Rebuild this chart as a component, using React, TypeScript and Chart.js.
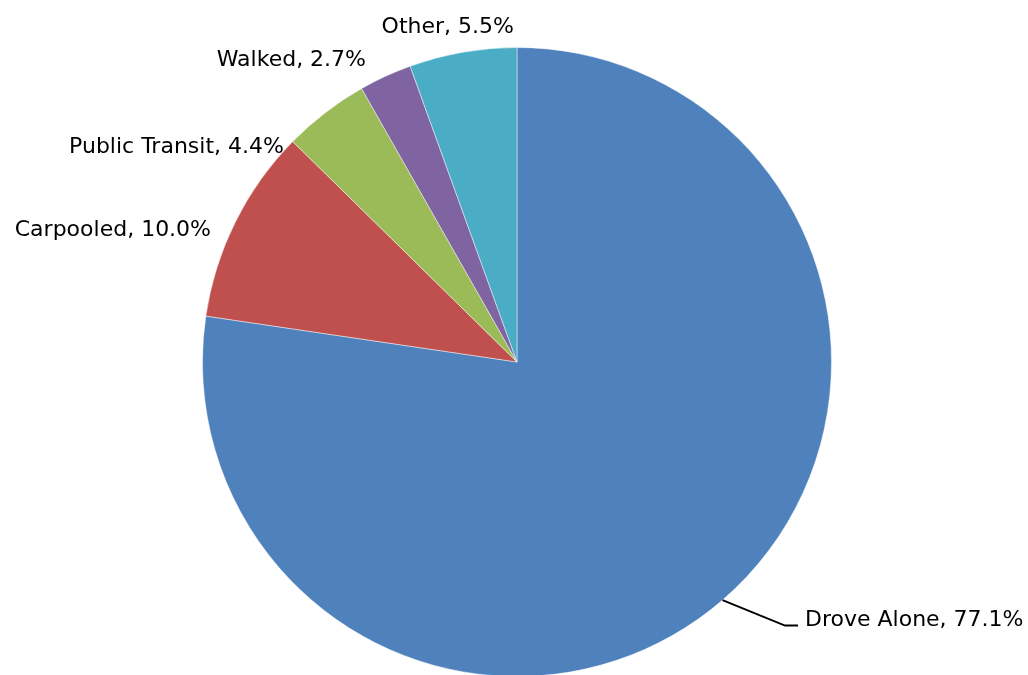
import React, { useEffect, useRef } from "react";
import { Chart, registerables } from "chart.js";

Chart.register(...registerables);

const categories: string[] = ["Drove Alone", "Carpooled", "Public Transit", "Walked", "Other"];
const shares: number[] = [77.1, 10.0, 4.4, 2.7, 5.5];
const sliceColors: string[] = ["#4F81BD", "#C0504D", "#9BBB59", "#8064A2", "#4BACC6"];

// label placement relative to the slice's outer mid-point (text edge x, baseline y)
const labelOffsets: { dx: number; dy: number; align: CanvasTextAlign; leader?: number[][] }[] = [
  { dx: 82.5, dy: 25.5, align: "left", leader: [[62.5, 25.5], [75.5, 25.5]] },
  { dx: -24.4, dy: 14, align: "right" },
  { dx: -41.4, dy: 40, align: "right" },
  { dx: -19.4, dy: -10.4, align: "right" },
  { dx: 51.2, dy: -19.2, align: "right" },
];

const labelPlugin = {
  id: "sliceLabels",
  afterDatasetsDraw(chart: any) {
    const ctx: CanvasRenderingContext2D = chart.ctx;
    const meta = chart.getDatasetMeta(0);
    const data = chart.data.datasets[0].data as number[];
    const labels = chart.data.labels as string[];
    ctx.save();
    ctx.font = "22px 'DejaVu Sans'";
    ctx.fillStyle = "#000000";
    ctx.textBaseline = "alphabetic";
    meta.data.forEach((arc: any, i: number) => {
      const p = arc.getProps(["x", "y", "startAngle", "endAngle", "outerRadius"], true);
      const mid = (p.startAngle + p.endAngle) / 2;
      const ex = p.x + Math.cos(mid) * p.outerRadius;
      const ey = p.y + Math.sin(mid) * p.outerRadius;
      const o = labelOffsets[i];
      if (o.leader) {
        ctx.beginPath();
        ctx.strokeStyle = "#000000";
        ctx.lineWidth = 2;
        ctx.moveTo(ex, ey);
        o.leader.forEach((pt) => ctx.lineTo(ex + pt[0], ey + pt[1]));
        ctx.stroke();
      }
      ctx.textAlign = o.align;
      ctx.fillText(`${labels[i]}, ${data[i].toFixed(1)}%`, ex + o.dx, ey + o.dy);
    });
    ctx.restore();
  },
};

export default function App() {
  const ref = useRef<HTMLCanvasElement | null>(null);
  useEffect(() => {
    if (!ref.current) return;
    const chart = new Chart(ref.current, {
      type: "pie",
      data: {
        labels: categories,
        datasets: [
          {
            data: shares,
            backgroundColor: sliceColors,
            borderColor: "rgba(255,255,255,0.45)",
            borderWidth: 1,
          },
        ],
      },
      options: {
        responsive: false,
        animation: false,
        layout: { padding: { top: 47, bottom: 23, left: 106, right: 100 } },
        plugins: {
          legend: { display: false },
          tooltip: { enabled: false },
        },
      },
      plugins: [labelPlugin],
    });
    return () => chart.destroy();
  }, []);
  return (
    <div style={{ position: "fixed", left: 0, top: 0, width: 1028, height: 675, overflow: "hidden", background: "#fff" }}>
      <canvas ref={ref} width={1028} height={700} style={{ display: "block" }} />
    </div>
  );
}
